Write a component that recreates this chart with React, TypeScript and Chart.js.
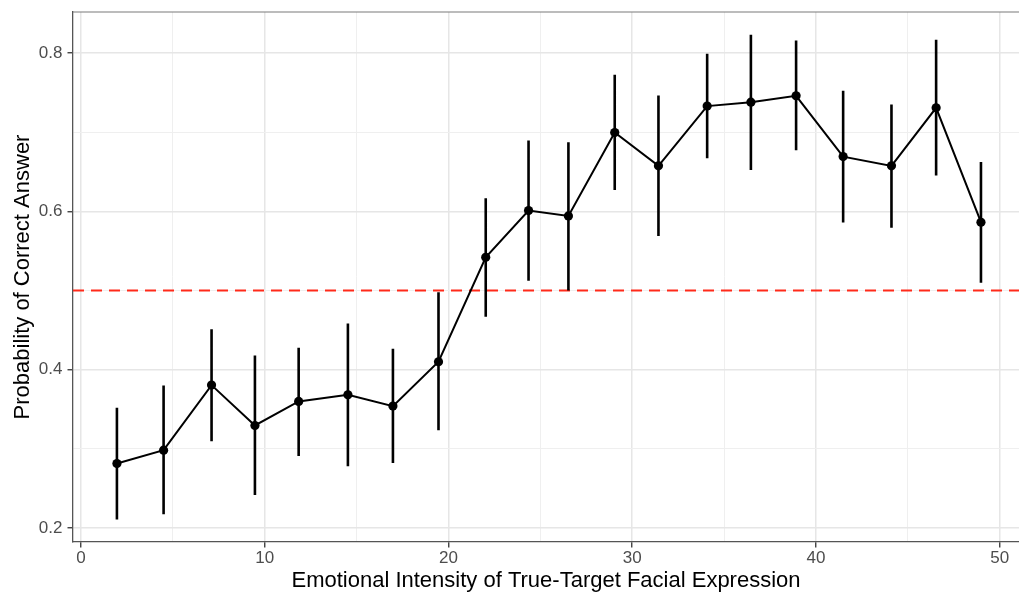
import React, { useEffect, useRef } from "react";
import { Chart, registerables } from "chart.js";

Chart.register(...registerables);

// ---- Data ----
const intensity = [1.96, 4.5, 7.11, 9.47, 11.85, 14.53, 16.98, 19.46, 22.03, 24.36, 26.53, 29.05, 31.43, 34.08, 36.46, 38.92, 41.48, 44.11, 46.54, 48.98];
const probability = [0.2815, 0.2983, 0.3805, 0.3295, 0.3599, 0.3682, 0.354, 0.41, 0.542, 0.601, 0.5942, 0.6996, 0.6575, 0.733, 0.738, 0.746, 0.6692, 0.6575, 0.7308, 0.5863];
const lowerCI = [0.2106, 0.2174, 0.3097, 0.2418, 0.2911, 0.278, 0.282, 0.3236, 0.4669, 0.5124, 0.5, 0.6271, 0.5689, 0.6672, 0.6524, 0.6773, 0.5858, 0.5794, 0.6452, 0.5099];
const upperCI = [0.3518, 0.38, 0.451, 0.418, 0.4277, 0.4585, 0.4264, 0.4977, 0.6166, 0.6895, 0.6874, 0.7726, 0.7464, 0.7991, 0.8231, 0.816, 0.7523, 0.735, 0.8168, 0.6625];
const chanceLevel = 0.5;

const xMajorTicks = [0, 10, 20, 30, 40, 50];
const xMinorTicks = [5, 15, 25, 35, 45];
const yMajorTicks = [0.2, 0.4, 0.6, 0.8];
const yMinorTicks = [0.3, 0.5, 0.7];

const xTitle = "Emotional Intensity of True-Target Facial Expression";
const yTitle = "Probability of Correct Answer";

const X_MIN = -0.43;
const X_MAX = 51.05;
const Y_MIN = 0.1823;
const Y_MAX = 0.8519;

const FONT = "'Liberation Sans', Arial, Helvetica, sans-serif";

const topBorder = {
  id: "topBorder",
  afterDraw(chart: any) {
    const { ctx, chartArea } = chart;
    ctx.save();
    ctx.strokeStyle = "#7a7a7a";
    ctx.lineWidth = 1.2;
    ctx.beginPath();
    ctx.moveTo(chartArea.left, chartArea.top);
    ctx.lineTo(chartArea.right + 2, chartArea.top);
    ctx.stroke();
    ctx.restore();
  },
};

export default function App() {
  const ref = useRef<HTMLCanvasElement | null>(null);

  useEffect(() => {
    if (!ref.current) return;

    const points = intensity.map((x, i) => ({ x, y: probability[i] }));
    const errData: any[] = [];
    intensity.forEach((x, i) => {
      errData.push({ x, y: lowerCI[i] });
      errData.push({ x, y: upperCI[i] });
      errData.push({ x, y: null });
    });

    const isMajorX = (v: number) => xMajorTicks.includes(v);
    const isMajorY = (v: number) => yMajorTicks.includes(v);

    const chart = new Chart(ref.current, {
      type: "line",
      data: {
        datasets: [
          {
            label: "points",
            data: points,
            borderColor: "#000",
            backgroundColor: "#000",
            borderWidth: 2,
            pointRadius: 4.6,
            pointBorderWidth: 0,
            pointBackgroundColor: "#000",
            tension: 0,
          },
          {
            label: "errorbars",
            data: errData,
            borderColor: "#000",
            borderWidth: 2.6,
            pointRadius: 0,
            spanGaps: false,
            tension: 0,
          },
          {
            label: "chance",
            data: [
              { x: X_MIN, y: chanceLevel },
              { x: X_MAX, y: chanceLevel },
            ],
            borderColor: "#ff2a1a",
            borderWidth: 2,
            borderDash: [11, 7],
            pointRadius: 0,
            tension: 0,
          },
        ],
      },
      options: {
        responsive: false,
        animation: false,
        devicePixelRatio: 1,
        events: [],
        layout: { autoPadding: false, padding: { top: 12, right: 0, left: 0, bottom: 0 } },
        plugins: {
          legend: { display: false },
          tooltip: { enabled: false },
        },
        scales: {
          x: {
            type: "linear",
            min: X_MIN,
            max: X_MAX,
            afterBuildTicks: (scale: any) => {
              scale.ticks = [...xMajorTicks, ...xMinorTicks]
                .sort((a, b) => a - b)
                .map((v) => ({ value: v }));
            },
            afterFit: (scale: any) => {
              scale.height = 53;
              scale.paddingLeft = 0;
              scale.paddingRight = 0;
              scale.paddingTop = 0;
              scale.paddingBottom = 0;
            },
            ticks: {
              autoSkip: false,
              maxRotation: 0,
              minRotation: 0,
              padding: 1,
              color: "#4d4d4d",
              font: { family: FONT, size: 17 },
              callback: (v: any) => (isMajorX(Number(v)) ? String(v) : ""),
            },
            grid: {
              color: (c: any) => (c.tick && isMajorX(c.tick.value) ? "#e6e6e6" : "#efefef"),
              lineWidth: (c: any) => (c.tick && isMajorX(c.tick.value) ? 1.5 : 1),
              tickLength: 5.5,
              tickWidth: 1.3,
              tickColor: (c: any) => (c.tick && isMajorX(c.tick.value) ? "#333" : "rgba(0,0,0,0)"),
            },
            border: { display: true, color: "#555", width: 1.3 },
            title: {
              display: true,
              text: xTitle,
              color: "#000",
              font: { family: FONT, size: 22 },
              padding: { top: 0, bottom: 1 },
            },
          },
          y: {
            type: "linear",
            min: Y_MIN,
            max: Y_MAX,
            afterBuildTicks: (scale: any) => {
              scale.ticks = [...yMajorTicks, ...yMinorTicks]
                .sort((a, b) => a - b)
                .map((v) => ({ value: v }));
            },
            afterFit: (scale: any) => {
              scale.width = 73;
              scale.paddingLeft = 0;
              scale.paddingRight = 0;
              scale.paddingTop = 0;
              scale.paddingBottom = 0;
            },
            ticks: {
              autoSkip: false,
              padding: 5,
              color: "#4d4d4d",
              font: { family: FONT, size: 17 },
              callback: (v: any) => (isMajorY(Number(v)) ? Number(v).toFixed(1) : ""),
            },
            grid: {
              color: (c: any) => (c.tick && isMajorY(c.tick.value) ? "#e6e6e6" : "#efefef"),
              lineWidth: (c: any) => (c.tick && isMajorY(c.tick.value) ? 1.5 : 1),
              tickLength: 5.5,
              tickWidth: 1.3,
              tickColor: (c: any) => (c.tick && isMajorY(c.tick.value) ? "#333" : "rgba(0,0,0,0)"),
            },
            border: { display: true, color: "#555", width: 1.3 },
            title: {
              display: true,
              text: yTitle,
              color: "#000",
              font: { family: FONT, size: 22 },
              padding: { top: 10, bottom: 0 },
            },
          },
        },
      } as any,
      plugins: [topBorder],
    });

    return () => chart.destroy();
  }, []);

  return (
    <div style={{ position: "fixed", left: 0, top: 0, width: 1019, height: 595, background: "#fff" }}>
      <canvas ref={ref} width={1019} height={595} style={{ display: "block", width: 1019, height: 595 }} />
    </div>
  );
}
